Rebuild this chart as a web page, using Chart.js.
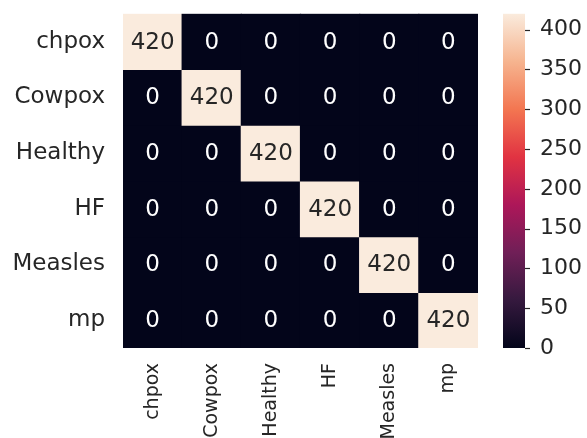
<!DOCTYPE html>
<html>
<head>
<meta charset="utf-8">
<script src="https://cdn.jsdelivr.net/npm/chart.js@4"></script>
<style>
  body { margin: 0; background: #fff; }
  canvas { display: block; }
</style>
</head>
<body>
<canvas id="heat" width="587" height="438"></canvas>
<script>
const colLabels = ['chpox', 'Cowpox', 'Healthy', 'HF', 'Measles', 'mp'];
const rowLabels = ['chpox', 'Cowpox', 'Healthy', 'HF', 'Measles', 'mp'];

// confusion matrix, one array per true class
const chpoxRow   = [420, 0, 0, 0, 0, 0];
const cowpoxRow  = [0, 420, 0, 0, 0, 0];
const healthyRow = [0, 0, 420, 0, 0, 0];
const hfRow      = [0, 0, 0, 420, 0, 0];
const measlesRow = [0, 0, 0, 0, 420, 0];
const mpRow      = [0, 0, 0, 0, 0, 420];
const matrix = [chpoxRow, cowpoxRow, healthyRow, hfRow, measlesRow, mpRow];

const cbMin = 0;
const cbMax = 420;
const cbStep = 50;

// seaborn "rocket"
const rocket = ['#03051a', '#35193e', '#701f57', '#ad1759', '#e13342', '#f37651', '#f6b48f', '#faebdd'];

function hexToRgb(h) {
    return [parseInt(h.slice(1, 3), 16), parseInt(h.slice(3, 5), 16), parseInt(h.slice(5, 7), 16)];
}

function rocketColor(v) {
    let t = (v - cbMin) / (cbMax - cbMin);
    t = Math.max(0, Math.min(1, t));
    const pos = t * (rocket.length - 1);
    const i = Math.min(Math.floor(pos), rocket.length - 2);
    const f = pos - i;
    const a = hexToRgb(rocket[i]), b = hexToRgb(rocket[i + 1]);
    const c = a.map((x, k) => Math.round(x + (b[k] - x) * f));
    return 'rgb(' + c.join(',') + ')';
}

const textColor = '#262626';

const cellLabels = {
    id: 'cellLabels',
    afterDatasetsDraw(chart) {
        const ctx = chart.ctx;
        ctx.save();
        ctx.font = '23px "DejaVu Sans"';
        ctx.textAlign = 'center';
        ctx.textBaseline = 'middle';
        chart.data.datasets.forEach((ds, r) => {
            chart.getDatasetMeta(r).data.forEach((el, j) => {
                const v = matrix[r][j];
                const p = el.getCenterPoint();
                ctx.fillStyle = v / cbMax > 0.5 ? textColor : '#ffffff';
                ctx.fillText(String(v), p.x, p.y + 1);
            });
        });
        ctx.restore();
    }
};

const colorBar = {
    id: 'colorBar',
    afterDraw(chart) {
        const ctx = chart.ctx;
        const s = chart.scales.cb;
        const x0 = chart.chartArea.right + 25;
        const w = 22;
        const g = ctx.createLinearGradient(0, s.bottom, 0, s.top);
        rocket.forEach((c, i) => g.addColorStop(i / (rocket.length - 1), c));
        ctx.save();
        ctx.fillStyle = g;
        ctx.fillRect(x0, s.top, w, s.bottom - s.top);
        ctx.strokeStyle = textColor;
        ctx.lineWidth = 1.2;
        s.ticks.forEach(t => {
            const y = Math.round(s.getPixelForValue(t.value)) + 0.5;
            ctx.beginPath();
            ctx.moveTo(x0 + w, y);
            ctx.lineTo(x0 + w + 5, y);
            ctx.stroke();
        });
        ctx.restore();
    }
};

const datasets = rowLabels.map((name, r) => ({
    label: name,
    data: colLabels.map(() => [r, r + 1]),
    backgroundColor: (c) => rocketColor(matrix[r][c.dataIndex]),
    borderWidth: 0,
    inflateAmount: 0.6,
    barPercentage: 1,
    categoryPercentage: 1,
    grouped: false,
    yAxisID: 'y'
}));

// the gap between axis and labels goes into tickLength (grid hidden),
// because ticks.padding also pads the chart area
new Chart(document.getElementById('heat'), {
    type: 'bar',
    data: { labels: colLabels, datasets: datasets },
    plugins: [cellLabels, colorBar],
    options: {
        responsive: false,
        animation: false,
        devicePixelRatio: 1,
        layout: { padding: { top: 8, left: 0, right: 0, bottom: 0 } },
        plugins: {
            legend: { display: false },
            tooltip: { enabled: false }
        },
        scales: {
            x: {
                type: 'category',
                grid: { display: false, drawTicks: true, tickLength: 15 },
                border: { display: false },
                ticks: {
                    autoSkip: false,
                    minRotation: 90,
                    maxRotation: 90,
                    padding: 0,
                    color: textColor,
                    font: { family: 'DejaVu Sans', size: 19 }
                },
                afterFit(s) { s.height = 90; }
            },
            y: {
                type: 'linear',
                position: 'left',
                min: 0,
                max: 6,
                reverse: true,
                grid: { display: false, drawTicks: true, tickLength: 18 },
                border: { display: false },
                afterBuildTicks(s) {
                    s.ticks = rowLabels.map((_, i) => ({ value: i + 0.5 }));
                },
                ticks: {
                    padding: 0,
                    color: textColor,
                    font: { family: 'DejaVu Sans', size: 23 },
                    callback: (v) => rowLabels[Math.floor(v)]
                },
                afterFit(s) { s.width = 123; }
            },
            cb: {
                type: 'linear',
                position: 'right',
                min: cbMin,
                max: cbMax,
                grid: { display: false, drawTicks: true, tickLength: 62 },
                border: { display: false },
                ticks: {
                    stepSize: cbStep,
                    includeBounds: false,
                    padding: 0,
                    color: textColor,
                    font: { family: 'DejaVu Sans', size: 22 }
                },
                afterFit(s) { s.width = 109; }
            }
        }
    }
});
</script>
</body>
</html>
